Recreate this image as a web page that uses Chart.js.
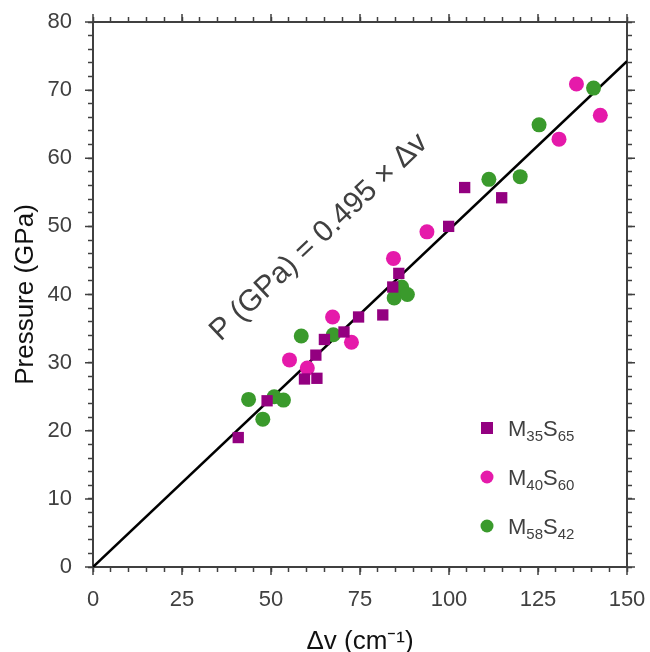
<!DOCTYPE html>
<html>
<head>
<meta charset="utf-8">
<script src="https://cdn.jsdelivr.net/npm/chart.js@4/dist/chart.umd.min.js"></script>
<style>
  html, body { margin: 0; padding: 0; background: #fff; }
  #wrap { width: 650px; height: 652px; }
</style>
</head>
<body>
<div id="wrap"><canvas id="grafico"></canvas></div>
<script>
// Raman shift (cm-1) vs pressure (GPa) for each glass composition
let dv35 = [40.8, 48.9, 59.4, 62.9, 62.6, 65.0, 70.5, 74.6, 81.4, 84.2, 85.9, 99.9, 104.4, 114.8];
let p35  = [19.0, 24.4, 27.6, 27.7, 31.1, 33.4, 34.5, 36.7, 37.0, 41.1, 43.1, 50.0, 55.7, 54.2];

let dv40 = [55.2, 60.2, 67.3, 72.6, 84.4, 93.8, 130.9, 135.8, 142.5];
let p40  = [30.4, 29.2, 36.7, 33.0, 45.3, 49.2, 62.8, 70.9, 66.3];

let dv58 = [43.7, 47.7, 50.9, 53.5, 58.5, 67.5, 84.6, 86.7, 88.3, 111.2, 120.0, 125.3, 140.6];
let p58  = [24.6, 21.7, 25.0, 24.5, 33.9, 34.1, 39.5, 41.1, 40.0, 56.9, 57.3, 64.9, 70.3];

// fit through origin
let pendiente = 0.495;
let xTicks = [0, 25, 50, 75, 100, 125, 150];
let yTicks = [0, 10, 20, 30, 40, 50, 60, 70, 80];

let series = [
  { nombre: 'M', a: '35', b: 'S', c: '65', x: dv35, y: p35, color: '#930080', forma: 'rect' },
  { nombre: 'M', a: '40', b: 'S', c: '60', x: dv40, y: p40, color: '#E51AAA', forma: 'circle' },
  { nombre: 'M', a: '58', b: 'S', c: '42', x: dv58, y: p58, color: '#3A9A2C', forma: 'circle' }
];

let puntos = (xs, ys) => xs.map((v, i) => ({ x: v, y: ys[i] }));

let datasets = series.map((s) => ({
  label: s.nombre + s.a + s.b + s.c,
  data: puntos(s.x, s.y),
  backgroundColor: s.color,
  borderWidth: 0,
  pointStyle: s.forma,
  pointRadius: s.forma === 'rect' ? 8 : 7.5,
  pointHoverRadius: s.forma === 'rect' ? 8 : 7.5,
  order: 1
}));

datasets.push({
  type: 'line',
  label: 'ajuste',
  data: [{ x: 0, y: 0 }, { x: 150, y: 150 * pendiente }],
  borderColor: '#000',
  borderWidth: 2.5,
  pointRadius: 0,
  fill: false,
  order: 5
});

let gris = '#404040';
let fuente = 'Arial, "Liberation Sans", sans-serif';

// longer marks at the labelled values
let ticksMayores = {
  id: 'ticksMayores',
  afterDraw(chart) {
    let ctx = chart.ctx;
    let a = chart.chartArea;
    let largo = 8;
    ctx.save();
    ctx.strokeStyle = gris;
    ctx.lineWidth = 1.5;
    ctx.beginPath();
    xTicks.forEach((v) => {
      let px = chart.scales.x.getPixelForValue(v);
      ctx.moveTo(px, a.bottom); ctx.lineTo(px, a.bottom + largo);
      ctx.moveTo(px, a.top); ctx.lineTo(px, a.top - largo);
    });
    yTicks.forEach((v) => {
      let py = chart.scales.y.getPixelForValue(v);
      ctx.moveTo(a.left, py); ctx.lineTo(a.left - largo, py);
      ctx.moveTo(a.right, py); ctx.lineTo(a.right + largo, py);
    });
    ctx.stroke();
    ctx.restore();
  }
};

// equation written along the fit line
let ecuacion = {
  id: 'ecuacion',
  afterDatasetsDraw(chart) {
    let ctx = chart.ctx;
    let sx = chart.scales.x, sy = chart.scales.y;
    let ang = Math.atan2(sy.getPixelForValue(150 * pendiente) - sy.getPixelForValue(0),
                         sx.getPixelForValue(150) - sx.getPixelForValue(0));
    ctx.save();
    ctx.translate(sx.getPixelForValue(63.5), sy.getPixelForValue(48.4));
    ctx.rotate(ang);
    ctx.fillStyle = gris;
    ctx.font = '30px ' + fuente;
    ctx.textAlign = 'center';
    ctx.textBaseline = 'middle';
    ctx.fillText('P (GPa) = ' + pendiente.toFixed(3) + ' \u00d7 \u0394v', 0, 0);
    ctx.restore();
  }
};

// legend with subscripts, bottom right inside the plot
let leyenda = {
  id: 'leyenda',
  afterDatasetsDraw(chart) {
    let ctx = chart.ctx;
    let a = chart.chartArea;
    let x0 = a.right - 140;
    let y0 = a.bottom - 139;
    ctx.save();
    series.forEach((s, i) => {
      let y = y0 + i * 49;
      ctx.fillStyle = s.color;
      if (s.forma === 'rect') {
        ctx.fillRect(x0 - 6, y - 6, 12, 12);
      } else {
        ctx.beginPath();
        ctx.arc(x0, y, 6.5, 0, Math.PI * 2);
        ctx.fill();
      }
      ctx.fillStyle = gris;
      ctx.textBaseline = 'alphabetic';
      let tx = x0 + 21;
      let base = y + 8;
      [[s.nombre, 22, 0], [s.a, 15, 5], [s.b, 22, 0], [s.c, 15, 5]].forEach((p) => {
        ctx.font = p[1] + 'px ' + fuente;
        ctx.fillText(p[0], tx, base + p[2]);
        tx += ctx.measureText(p[0]).width;
      });
    });
    ctx.restore();
  }
};

let ejeX = (pos, etiquetas) => ({
  type: 'linear',
  position: pos,
  min: 0, max: 150,
  border: { display: true, color: gris, width: 2 },
  grid: { drawOnChartArea: false, drawTicks: true, tickLength: 5, tickColor: gris, tickWidth: 1.5 },
  ticks: {
    display: etiquetas,
    stepSize: 5,
    autoSkip: false,
    maxRotation: 0,
    padding: 15,
    color: gris,
    font: { size: 22, family: fuente },
    callback: (v) => (v % 25 === 0 ? v : '')
  },
  afterFit: (scale) => {
    scale.height = pos === 'bottom' ? 85 : 22;
    scale.paddingLeft = 0; scale.paddingRight = 0;
  }
});

let ejeY = (pos, etiquetas) => ({
  type: 'linear',
  position: pos,
  min: 0, max: 80,
  border: { display: true, color: gris, width: 2 },
  grid: { drawOnChartArea: false, drawTicks: true, tickLength: 5, tickColor: gris, tickWidth: 1.5 },
  ticks: {
    display: etiquetas,
    stepSize: 2,
    autoSkip: false,
    padding: 16,
    color: gris,
    font: { size: 22, family: fuente },
    callback: (v) => (v % 10 === 0 ? v : '')
  },
  afterFit: (scale) => {
    scale.width = pos === 'left' ? 83 : 23;
    scale.paddingTop = 0; scale.paddingBottom = 0;
  }
});

let escalas = {
  x: ejeX('bottom', true),
  x2: ejeX('top', false),
  y: ejeY('left', true),
  y2: ejeY('right', false)
};
escalas.x.title = { display: true, text: '\u0394v (cm\u207b\u00b9)', color: '#111', font: { size: 26, family: fuente, lineHeight: 0.8 }, padding: 0 };
escalas.y.title = { display: true, text: 'Pressure (GPa)', color: '#111', font: { size: 26, family: fuente, lineHeight: 1.2 }, padding: 0 };

let ctx = document.getElementById('grafico').getContext('2d');
let miGrafico = new Chart(ctx, {
  type: 'scatter',
  data: { datasets: datasets },
  options: {
    responsive: true,
    maintainAspectRatio: false,
    animation: false,
    layout: { padding: { left: 10, right: 0, top: 0, bottom: 0 } },
    scales: escalas,
    plugins: {
      legend: { display: false },
      tooltip: { enabled: false }
    }
  },
  plugins: [ticksMayores, ecuacion, leyenda]
});
</script>
</body>
</html>
